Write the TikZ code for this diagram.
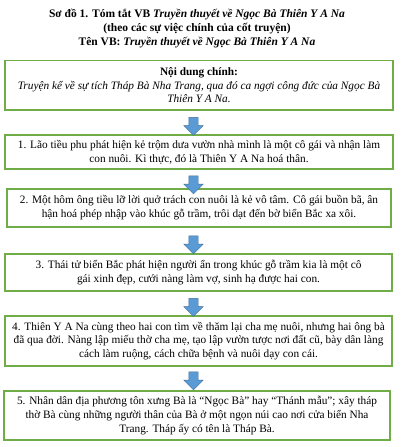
\documentclass[tikz,border=0pt]{standalone}
\usepackage{fontspec}
\setmainfont{Liberation Serif}
\newfontfamily\tnrfont{Liberation Serif}
\usetikzlibrary{shapes.arrows}
\definecolor{boxgreen}{HTML}{70AD47}
\definecolor{arrowfill}{HTML}{5B9BD5}
\definecolor{arrowdraw}{HTML}{41719C}
\begin{document}
\begin{tikzpicture}[x=1pt,y=-1pt,
  box/.style={draw=boxgreen, line width=1.2pt, rectangle, inner sep=0pt, align=center,
    font=\tnrfont\fontsize{11.3pt}{13.8pt}\selectfont},
  darrow/.style={single arrow, fill=arrowfill, draw=arrowdraw, line width=0.4pt,
    rotate=-90, minimum height=18pt, inner xsep=0pt, inner ysep=4.5pt,
    single arrow head extend=5pt, single arrow tip angle=90,
    text height=0pt, text depth=0pt, font=\tiny},
  titletext/.style={align=center, inner sep=0pt, font=\tnrfont\bfseries\fontsize{11.5pt}{14pt}\selectfont}
]
\useasboundingbox (0,0) rectangle (400,447);

\node[titletext] (title) at (197,29)
  {Sơ đồ 1. Tóm tắt VB \textit{Truyền thuyết về Ngọc Bà Thiên Y A Na}\\
   (theo các sự việc chính của cốt truyện)\\
   Tên VB: \textit{Truyền thuyết về Ngọc Bà Thiên Y A Na}};

\node[box, minimum width=388pt, minimum height=49.5pt] (b0) at (199,85.25)
  {\textbf{Nội dung chính:}\\
   \textit{Truyện kể về sự tích Tháp Bà Nha Trang, qua đó ca ngợi công đức của Ngọc Bà}\\
   \textit{Thiên Y A Na.}};

\node[box, minimum width=388pt, minimum height=34pt] (b1) at (199,152)
  {1. Lão tiều phu phát hiện kẻ trộm dưa vườn nhà mình là một cô gái và nhận làm\\
   con nuôi. Kì thực, đó là Thiên Y A Na hoá thân.};

\node[box, minimum width=384pt, minimum height=38pt] (b2) at (199,208)
  {2. Một hôm ông tiều lỡ lời quở trách con nuôi là kẻ vô tâm. Cô gái buồn bã, ân\\
   hận hoá phép nhập vào khúc gỗ trầm, trôi dạt đến bờ biển Bắc xa xôi.};

\node[box, minimum width=387pt, minimum height=37pt] (b3) at (198.5,272.5)
  {3. Thái tử biển Bắc phát hiện người ẩn trong khúc gỗ trầm kia là một cô\\
   gái xinh đẹp, cưới nàng làm vợ, sinh hạ được hai con.};

\node[box, minimum width=387pt, minimum height=50pt] (b4) at (198.5,341)
  {4. Thiên Y A Na cùng theo hai con tìm về thăm lại cha mẹ nuôi, nhưng hai ông bà\\
   đã qua đời. Nàng lập miếu thờ cha mẹ, tạo lập vườn tược nơi đất cũ, bày dân làng\\
   cách làm ruộng, cách chữa bệnh và nuôi dạy con cái.};

\node[box, minimum width=386pt, minimum height=49pt] (b5) at (197,415.5)
  {5. Nhân dân địa phương tôn xưng Bà là “Ngọc Bà” hay “Thánh mẫu”; xây tháp\\
   thờ Bà cùng những người thân của Bà ở một ngọn núi cao nơi cửa biển Nha\\
   Trang. Tháp ấy có tên là Tháp Bà.};

\node[darrow] (a1) at (193.5,124) {};
\node[darrow] (a2) at (193.5,182.5) {};
\node[darrow] (a3) at (193.5,242.5) {};
\node[darrow] (a4) at (193.5,305) {};
\node[darrow] (a5) at (193.5,378.5) {};
\end{tikzpicture}
\end{document}
